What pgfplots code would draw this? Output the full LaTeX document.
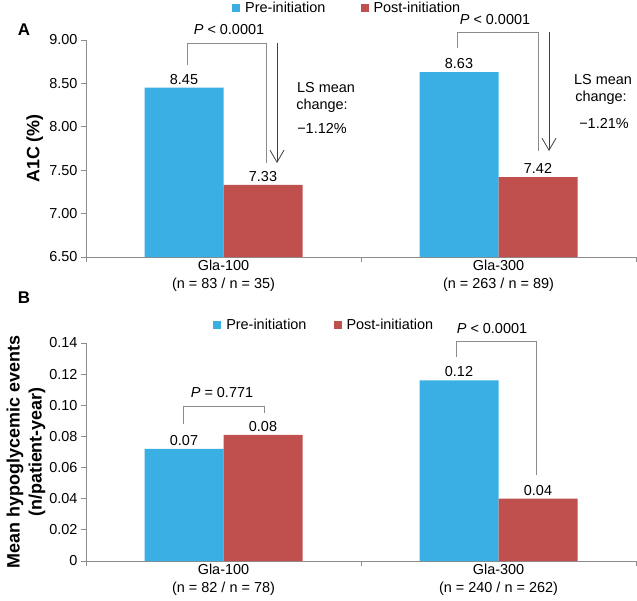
\documentclass[border=0pt]{standalone}
\usepackage{fontspec}
\setmainfont{Liberation Sans}
\usepackage{pgfplots}
\pgfplotsset{compat=1.18}
\usetikzlibrary{arrows.meta}

\definecolor{preblue}{HTML}{3AAFE3}
\definecolor{postred}{HTML}{C0504D}
\definecolor{axgray}{HTML}{8C8C8C}
\definecolor{arrgray}{HTML}{404040}
\newcommand\fs{\fontsize{14.5}{18}\selectfont}
\newcommand\fsl{\fontsize{18}{22}\selectfont\bfseries}

\pgfplotsset{
  panel/.style={
    scale only axis, width=550bp,
    xmin=-0.5, xmax=1.5,
    axis x line=bottom, axis y line=left,
    axis line style={-, axgray, line width=0.8bp},
    ybar=0pt, bar width=79bp,
    xtick={-0.5,0.5,1.5}, xticklabels={},
    major tick length=5bp, tick align=outside,
    tick style={axgray, line width=0.8bp},
    extra x ticks={0,1},
    extra x tick style={major tick length=0pt, tick label style={align=center, font=\fs}},
    tick label style={font=\fs},
    yticklabel style={/pgf/number format/assume math mode=true},
    ylabel style={font=\fsl, align=center, anchor=center},
    nodes near coords={\pgfplotspointmeta},
    point meta=explicit symbolic,
    nodes near coords style={font=\fs, text=black},
    legend columns=2,
    legend image code/.code={\fill[#1] (0bp,-4bp) rectangle (8bp,4bp);},
    legend style={draw=none, fill=none, font=\fs, inner sep=0pt,
      nodes={inner sep=0pt},
      /tikz/every odd column/.append style={column sep=5bp}},
  }
}

\begin{document}
\begin{tikzpicture}
\path[use as bounding box] (0,0) rectangle (637bp,-601bp);

% Panel A
\begin{axis}[panel, at={(86bp,-257bp)}, anchor=south west,
  height=217bp, ymin=6.5, ymax=9,
  ytick={6.5,7,7.5,8,8.5,9},
  yticklabels={6.50,7.00,7.50,8.00,8.50,9.00},
  extra x tick labels={{Gla-100\\(n = 83 / n = 35)},{Gla-300\\(n = 263 / n = 89)}},
  ylabel={A1C (\%)},
  ylabel style={at={(axis description cs:-0.093,0.5)}},
  legend style={at={(axis description cs:0.2655,1.1475)}, anchor=west,
    /tikz/every even column/.append style={column sep=35bp}},
]
\addplot[fill=preblue, draw=none] coordinates {(0,8.45) [8.45] (1,8.63) [8.63]};
\addplot[fill=postred, draw=none] coordinates {(0,7.33) [7.33] (1,7.42) [7.42]};
\addlegendentry{Pre-initiation}
\addlegendentry{Post-initiation}
\end{axis}

% Panel B
\begin{axis}[panel, at={(86bp,-561bp)}, anchor=south west,
  height=218bp, ymin=0, ymax=0.14,
  ytick={0,0.02,0.04,0.06,0.08,0.10,0.12,0.14},
  yticklabels={0,0.02,0.04,0.06,0.08,0.10,0.12,0.14},
  extra x tick labels={{Gla-100\\(n = 82 / n = 78)},{Gla-300\\(n = 240 / n = 262)}},
  ylabel={Mean hypoglycemic events\\(n/patient-year)},
  ylabel style={at={(axis description cs:-0.109,0.5)}},
  legend style={at={(axis description cs:0.231,1.0826)}, anchor=west,
    /tikz/every even column/.append style={column sep=27bp}},
]
\addplot[fill=preblue, draw=none] coordinates {(0,0.072) [0.07] (1,0.116) [0.12]};
\addplot[fill=postred, draw=none] coordinates {(0,0.081) [0.08] (1,0.040) [0.04]};
\addlegendentry{Pre-initiation}
\addlegendentry{Post-initiation}
\end{axis}

% panel letters
\node[font=\fontsize{17}{20}\selectfont\bfseries] at (24bp,-30bp) {A};
\node[font=\fontsize{17}{20}\selectfont\bfseries] at (24bp,-298bp) {B};

% annotations panel A
\draw[axgray, line width=0.8bp] (187bp,-65bp) -- (187bp,-43bp) -- (266bp,-43bp) -- (266bp,-163bp);
\draw[arrgray, line width=0.8bp, -{Straight Barb[length=12bp,width=14bp]}] (277bp,-43bp) -- (277bp,-163bp);
\node[font=\fs] at (229bp,-30bp) {{\itshape P} < 0.0001};
\node[font=\fs] at (326bp,-88bp) {LS mean};
\node[font=\fs] at (322bp,-106bp) {change:};
\node[font=\fs] at (322bp,-128bp) {−1.12\%};

\draw[axgray, line width=0.8bp] (457bp,-48bp) -- (457bp,-32bp) -- (538bp,-32bp) -- (538bp,-151bp);
\draw[arrgray, line width=0.8bp, -{Straight Barb[length=12bp,width=14bp]}] (549bp,-32bp) -- (549bp,-151bp);
\node[font=\fs] at (495bp,-20bp) {{\itshape P} < 0.0001};
\node[font=\fs] at (603bp,-80bp) {LS mean};
\node[font=\fs] at (601bp,-98bp) {change:};
\node[font=\fs] at (604bp,-123bp) {−1.21\%};

% annotations panel B
\draw[axgray, line width=0.8bp] (183bp,-424bp) -- (183bp,-406bp) -- (264bp,-406bp) -- (264bp,-413bp);
\node[font=\fs] at (222bp,-393bp) {{\itshape P} = 0.771};
\draw[axgray, line width=0.8bp] (456bp,-357bp) -- (456bp,-341bp) -- (536bp,-341bp) -- (536bp,-475bp);
\node[font=\fs] at (492bp,-329bp) {{\itshape P} < 0.0001};
\end{tikzpicture}
\end{document}
